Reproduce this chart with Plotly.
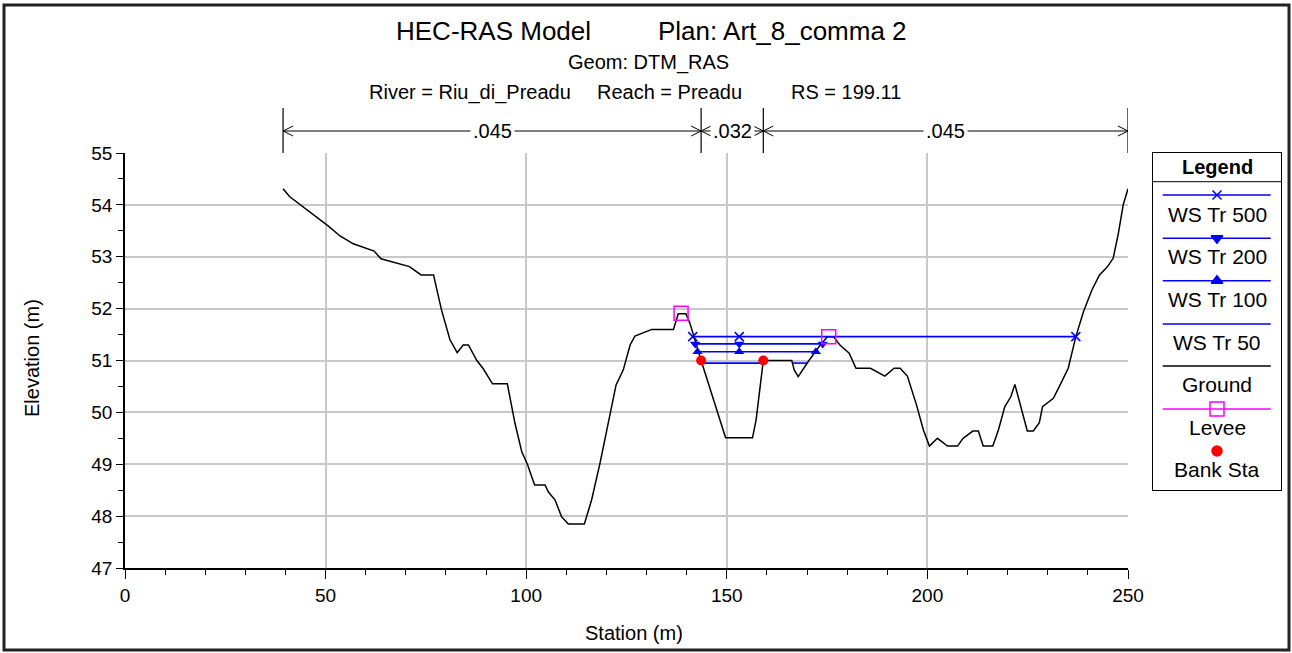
import plotly.graph_objects as go

# ---------------- data ----------------
ground_x = [39.4, 41.0, 50.7, 53.6, 56.9, 62.1, 63.8, 70.9, 73.8, 76.9, 78.9, 81.0, 82.8, 84.3,
            85.6, 87.7, 89.3, 91.6, 95.3, 96.1, 97.2, 98.9, 100.3, 102.1, 104.7, 105.5, 107.2,
            108.8, 110.5, 114.5, 116.3, 118.4, 120.9, 122.4, 124.2, 125.9, 127.1, 131.3, 136.7,
            137.9, 139.8, 140.8, 143.6, 149.7, 156.4, 157.3, 159.1, 166.2, 166.8, 167.8, 170.3,
            173.6, 175.1, 176.6, 178.2, 180.5, 182.2, 185.8, 189.4, 191.7, 193.2, 195.0, 197.3,
            199.0, 200.5, 202.5, 205.0, 207.5, 208.9, 211.3, 212.7, 213.9, 216.3, 217.7, 219.3,
            220.8, 221.8, 224.9, 226.4, 227.9, 228.7, 231.4, 232.9, 235.1, 237.0, 238.9, 241.0,
            242.9, 244.8, 246.3, 247.6, 248.8, 250.0]
ground_y = [54.31, 54.16, 53.59, 53.40, 53.25, 53.11, 52.96, 52.81, 52.65, 52.65, 51.97, 51.40,
            51.15, 51.30, 51.30, 51.00, 50.84, 50.55, 50.55, 50.24, 49.79, 49.24, 49.00, 48.60,
            48.60, 48.47, 48.31, 47.99, 47.85, 47.85, 48.31, 49.02, 49.98, 50.53, 50.82, 51.30,
            51.47, 51.60, 51.60, 51.90, 51.90, 51.72, 51.00, 49.51, 49.51, 49.85, 51.00, 51.00,
            50.82, 50.69, 50.98, 51.33, 51.46, 51.46, 51.30, 51.14, 50.85, 50.85, 50.70, 50.85,
            50.85, 50.70, 50.14, 49.66, 49.35, 49.50, 49.35, 49.35, 49.50, 49.64, 49.64, 49.35,
            49.35, 49.66, 50.11, 50.30, 50.54, 49.64, 49.64, 49.80, 50.11, 50.27, 50.50, 50.85,
            51.46, 51.94, 52.36, 52.65, 52.80, 52.97, 53.45, 54.00, 54.31]

ws500_x = [141.5, 153.1, 237.0]
ws500_y = [51.46, 51.46, 51.46]
ws200_x = [142.1, 153.1, 173.9]
ws200_y = [51.32, 51.32, 51.32]
ws100_x = [142.7, 153.1, 172.2]
ws100_y = [51.17, 51.17, 51.17]
ws50_x = [143.7, 158.9, None, 166.5, 170.2]
ws50_y = [50.95, 50.95, None, 50.95, 50.95]

levee_x = [138.6, 175.4]
levee_y = [51.91, 51.46]
bank_x = [143.6, 159.1]
bank_y = [51.0, 51.0]

n_stations = [39.4, 143.6, 159.1, 250.0]
n_values = [".045", ".032", ".045"]

legend_names = ["WS Tr 500", "WS Tr 200", "WS Tr 100", "WS Tr 50", "Ground", "Levee", "Bank Sta"]

x_range = [0, 250]
y_range = [47, 55]

# ---------------- layout geometry (pixels) ----------------
W, H = 1292, 653
ML, MR, MT, MB = 125, 11, 150, 85
PW = W - ML - MR
PH = H - MT - MB
plot_right_px = 1128
plot_top_px = 153


def px_x(px):
    return (px - ML) / PW


def px_y(py):
    return (H - MB - py) / PH


FONT = "Arial, Liberation Sans, sans-serif"
BLUE = "#0000ff"

fig = go.Figure()

# ---------------- main traces ----------------
fig.add_trace(go.Scatter(x=ground_x, y=ground_y, mode="lines",
                         line=dict(color="black", width=1.5), name="Ground"))
fig.add_trace(go.Scatter(x=ws50_x, y=ws50_y, mode="lines",
                         line=dict(color=BLUE, width=1.6), name="WS Tr 50"))
fig.add_trace(go.Scatter(x=ws100_x, y=ws100_y, mode="lines+markers",
                         line=dict(color=BLUE, width=1.6),
                         marker=dict(symbol="triangle-up", size=9, color=BLUE), name="WS Tr 100"))
fig.add_trace(go.Scatter(x=ws200_x, y=ws200_y, mode="lines+markers",
                         line=dict(color=BLUE, width=1.6),
                         marker=dict(symbol="triangle-down", size=9, color=BLUE), name="WS Tr 200"))
fig.add_trace(go.Scatter(x=ws500_x, y=ws500_y, mode="lines+markers",
                         line=dict(color=BLUE, width=1.6),
                         marker=dict(symbol="x-thin-open", size=9, color=BLUE,
                                     line=dict(color=BLUE, width=1.5)), name="WS Tr 500"))
fig.add_trace(go.Scatter(x=levee_x, y=levee_y, mode="markers",
                         marker=dict(symbol="square-open", size=14, color="#ff00ff",
                                     line=dict(color="#ff00ff", width=1.5)), name="Levee"))
fig.add_trace(go.Scatter(x=bank_x, y=bank_y, mode="markers",
                         marker=dict(symbol="circle", size=10, color="#ff0000"), name="Bank Sta"))

# ---------------- legend panel (secondary axes) ----------------
leg_line_y = [42, 85.3, 127.7, 171, 213, 256, 298]
leg_text_y = [61.3, 103.7, 146, 189.3, 231.3, 274.7, 316.3]
leg_styles = [
    dict(color=BLUE, symbol="x-thin-open", size=9),
    dict(color=BLUE, symbol="triangle-down", size=10),
    dict(color=BLUE, symbol="triangle-up", size=10),
    dict(color=BLUE, symbol=None, size=0),
    dict(color="black", symbol=None, size=0),
    dict(color="#ff00ff", symbol="square-open", size=14),
    dict(color="#ff0000", symbol="circle", size=10),
]
lx0, lx1, lxm = 0.076, 0.92, 0.5
for name, ly, ty, st in zip(legend_names, leg_line_y, leg_text_y, leg_styles):
    if name != "Bank Sta":
        fig.add_trace(go.Scatter(x=[lx0, lx1], y=[ly, ly], mode="lines", xaxis="x2", yaxis="y2",
                                 line=dict(color=st["color"], width=1.6), hoverinfo="skip"))
    if st["symbol"]:
        fig.add_trace(go.Scatter(x=[lxm], y=[ly], mode="markers", xaxis="x2", yaxis="y2",
                                 marker=dict(symbol=st["symbol"], size=st["size"], color=st["color"],
                                             line=dict(color=st["color"], width=1.5)),
                                 hoverinfo="skip"))
    fig.add_annotation(x=lxm, y=ty, xref="x2", yref="y2", text=name, showarrow=False,
                       xanchor="center", yanchor="middle",
                       font=dict(family=FONT, size=21, color="black"))

fig.add_annotation(x=lxm, y=13.7, xref="x2", yref="y2", text="<b>Legend</b>", showarrow=False,
                   xanchor="center", yanchor="middle",
                   font=dict(family=FONT, size=20, color="black"))
fig.add_shape(type="line", xref="x2", yref="y2", x0=0, x1=1, y0=28.7, y1=28.7,
              line=dict(color="black", width=1))

# ---------------- Manning's n bar ----------------
arrow_y = px_y(131)
vtop = px_y(108)
vbot = px_y(plot_top_px)
for s in n_stations:
    fig.add_shape(type="line", xref="x", yref="paper", x0=s, x1=s, y0=vbot, y1=vtop,
                  line=dict(color="black", width=1.2))
for i, nv in enumerate(n_values):
    a, b = n_stations[i], n_stations[i + 1]
    fig.add_shape(type="line", xref="x", yref="paper", x0=a, x1=b, y0=arrow_y, y1=arrow_y,
                  line=dict(color="black", width=1))
    fig.add_shape(type="path", xref="x", yref="paper", xsizemode="pixel", ysizemode="pixel",
                  xanchor=a, yanchor=arrow_y, path="M 10,5 L 0,0 L 10,-5",
                  line=dict(color="black", width=1))
    fig.add_shape(type="path", xref="x", yref="paper", xsizemode="pixel", ysizemode="pixel",
                  xanchor=b, yanchor=arrow_y, path="M -10,5 L 0,0 L -10,-5",
                  line=dict(color="black", width=1))
    fig.add_annotation(x=(a + b) / 2, y=arrow_y, xref="x", yref="paper", text=nv,
                       showarrow=False, bgcolor="white", borderpad=2,
                       xanchor="center", yanchor="middle",
                       font=dict(family=FONT, size=20, color="black"))


def add_text(px, py, text, size, anchor="center", angle=0):
    fig.add_annotation(x=px_x(px), y=px_y(py), xref="paper", yref="paper", text=text,
                       showarrow=False, xanchor=anchor, yanchor="middle", textangle=angle,
                       font=dict(family=FONT, size=size, color="black"))


# ---------------- titles ----------------
add_text(593, 31, "HEC-RAS Model", 26, "right")
add_text(656, 31, "Plan: Art_8_comma 2", 26, "left")
add_text(648, 62, "Geom: DTM_RAS", 20)
add_text(367, 92, "River = Riu_di_Preadu", 20, "left")
add_text(595, 92, "Reach = Preadu", 20, "left")
add_text(789, 92, "RS = 199.11", 20, "left")

# axis titles
add_text(634, 633, "Station (m)", 20)
add_text(32, 358, "Elevation (m)", 20, "center", -90)

# outer frame
fig.add_shape(type="rect", xref="paper", yref="paper",
              x0=px_x(4), x1=px_x(1289), y0=px_y(650), y1=px_y(5),
              line=dict(color="#222222", width=3))

common_hidden = dict(showgrid=False, zeroline=False, showticklabels=False, ticks="",
                     showline=True, mirror=True, linecolor="black", linewidth=1.2,
                     fixedrange=True, automargin=False)

fig.update_layout(
    template="none",
    width=W, height=H, autosize=False,
    margin=dict(l=ML, r=MR, t=MT, b=MB, autoexpand=False),
    paper_bgcolor="white", plot_bgcolor="white",
    showlegend=False,
    font=dict(family=FONT, size=19, color="black"),
    xaxis=dict(domain=[0, px_x(plot_right_px)], range=x_range, dtick=50, tick0=0,
               showgrid=True, gridcolor="#c8c8c8", gridwidth=1.5, zeroline=False,
               showline=True, linecolor="black", linewidth=1.5, automargin=False,
               ticks="outside", ticklen=9, tickcolor="black", tickwidth=1.2,
               tickfont=dict(family=FONT, size=19, color="black"),
               minor=dict(dtick=10, ticks="outside", ticklen=5, tickcolor="black",
                          tickwidth=1.2, showgrid=False),
               anchor="y"),
    yaxis=dict(domain=[0, px_y(plot_top_px)], range=y_range, dtick=1, tick0=47,
               showgrid=True, gridcolor="#c8c8c8", gridwidth=1.5, zeroline=False,
               showline=True, linecolor="black", linewidth=1.5, automargin=False,
               ticks="outside", ticklen=7, tickcolor="black", tickwidth=1.2,
               tickfont=dict(family=FONT, size=19, color="black"),
               minor=dict(dtick=0.5, ticks="outside", ticklen=5, tickcolor="black",
                          tickwidth=1.2, showgrid=False),
               anchor="x"),
    xaxis2=dict(domain=[px_x(1153), px_x(1281)], range=[0, 1], anchor="y2", **common_hidden),
    yaxis2=dict(domain=[px_y(490), px_y(153)], range=[337, 0], anchor="x2", **common_hidden),
)

post = ("document.body.style.margin='0px';document.body.style.overflow='hidden';"
        "var gd=document.getElementById('{plot_id}');"
        "gd.style.width='%dpx';gd.style.height='%dpx';"
        "Plotly.relayout(gd,{autosize:false,width:%d,height:%d}).then(function(){"
        "return Plotly.relayout(gd,{width:%d,height:%d});});" % (W, H, W - 1, H - 1, W, H))
fig.write_html("out.html", config={"responsive": False, "displayModeBar": False},
               post_script=post)
